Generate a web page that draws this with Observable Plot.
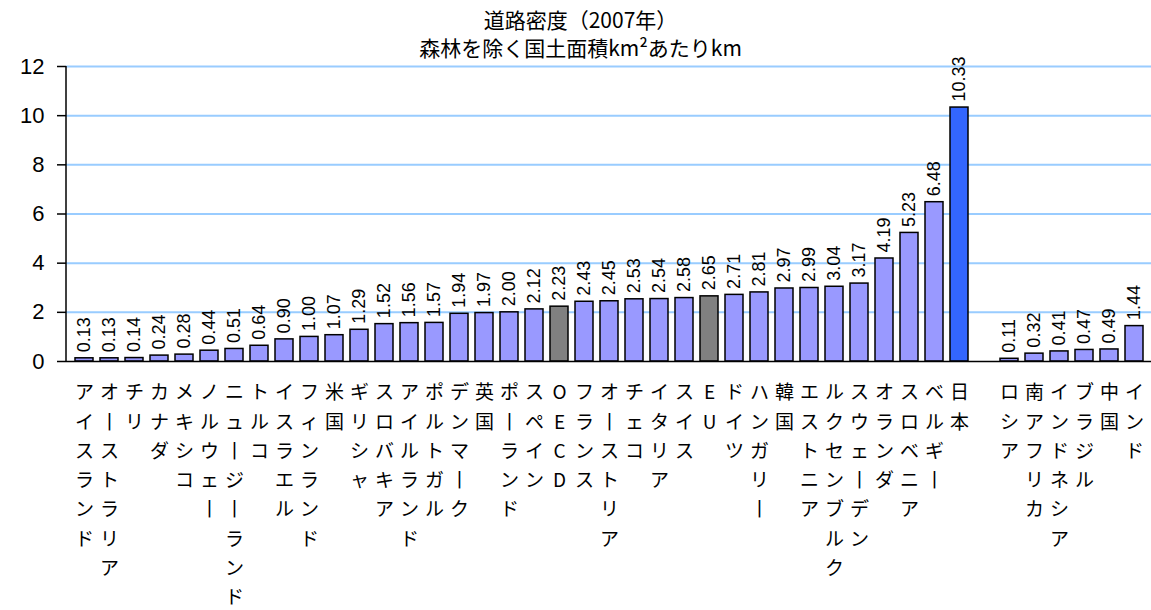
<!DOCTYPE html>
<html>
<head>
<meta charset="utf-8">
<script src="https://cdn.jsdelivr.net/npm/d3@7"></script>
<script src="https://cdn.jsdelivr.net/npm/@observablehq/plot@0.6"></script>
<style>
  html, body { margin: 0; padding: 0; background: #fff; overflow: hidden; }
  #title { height: 60px; box-sizing: border-box; padding-top: 5px; padding-left: 10px;
    text-align: center; font-family: "Noto Sans CJK JP", sans-serif; font-size: 21px;
    line-height: 28px; color: #000; }
  #chart svg { display: block; overflow: visible !important; background: transparent !important; }
</style>
</head>
<body>
<div id="title"><div>道路密度（2007年）</div><div>森林を除く国土面積km²あたりkm</div></div>
<div id="chart"></div>
<script>
const countries = ["アイスランド","オーストラリア","チリ","カナダ","メキシコ","ノルウェー","ニュージーランド","トルコ","イスラエル","フィンランド","米国","ギリシャ","スロバキア","アイルランド","ポルトガル","デンマーク","英国","ポーランド","スペイン","OECD","フランス","オーストリア","チェコ","イタリア","スイス","EU","ドイツ","ハンガリー","韓国","エストニア","ルクセンブルク","スウェーデン","オランダ","スロベニア","ベルギー","日本"];
const values = [0.13,0.13,0.14,0.24,0.28,0.44,0.51,0.64,0.90,1.00,1.07,1.29,1.52,1.56,1.57,1.94,1.97,2.00,2.12,2.23,2.43,2.45,2.53,2.54,2.58,2.65,2.71,2.81,2.97,2.99,3.04,3.17,4.19,5.23,6.48,10.33];
const emerging = ["ロシア","南アフリカ","インドネシア","ブラジル","中国","インド"];
const emergingValues = [0.11,0.32,0.41,0.47,0.49,1.44];
const yTicks = [0,2,4,6,8,10,12];

const gap = " ";
const domain = [...countries, gap, ...emerging];
const data = countries.map((name, i) => ({name, value: values[i]}))
  .concat(emerging.map((name, i) => ({name, value: emergingValues[i]})));
const fillOf = d => d.name === "日本" ? "#3366ff" : (d.name === "OECD" || d.name === "EU") ? "#808080" : "#9999ff";
// stack the characters one per line, as in the original (long vowel mark drawn in its vertical form)
const stacked = name => [...name].map(c => c === "ー" ? "丨" : c).join("\n");

const chart = Plot.plot({
  width: 1151,
  height: 550,
  marginLeft: 66,
  marginRight: 0,
  marginTop: 6,
  marginBottom: 249,
  style: {overflow: "visible", background: "transparent"},
  x: {type: "band", domain, range: [63.8, 1153.5], paddingInner: 0.3, paddingOuter: 0.15, axis: null},
  y: {domain: [0, 12], axis: null},
  marks: [
    Plot.gridY(yTicks.filter(v => v > 0), {stroke: "#99ccff", strokeOpacity: 1, strokeWidth: 2}),
    Plot.barY(data, {x: "name", y: "value", fill: fillOf, stroke: "black", strokeWidth: 1.5}),
    Plot.ruleY([0], {stroke: "black", strokeWidth: 1.5}),
    (index, scales, values, dims) => {
      const line = document.createElementNS("http://www.w3.org/2000/svg", "line");
      line.setAttribute("x1", dims.marginLeft); line.setAttribute("x2", dims.marginLeft);
      line.setAttribute("y1", dims.marginTop); line.setAttribute("y2", dims.height - dims.marginBottom);
      line.setAttribute("stroke", "black"); line.setAttribute("stroke-width", 1.5);
      return line;
    },
    Plot.axisY({ticks: yTicks, tickSize: 9, tickPadding: 13, fontSize: 22, label: null,
      fontFamily: "Liberation Sans, Arial, sans-serif", tickFormat: d => String(d), stroke: "black", strokeWidth: 1.5, ariaLabel: "yticks"}),
    Plot.text(data, {x: "name", y: "value", text: d => d.value.toFixed(2), rotate: -90,
      textAnchor: "start", dy: -6, fontSize: 18, fontFamily: "Liberation Sans, Arial, sans-serif", fill: "black", ariaLabel: "values"}),
    Plot.text(domain.filter(d => d !== gap), {x: d => d, y: () => 0, text: stacked, dy: 17,
      lineAnchor: "top", lineHeight: 1.54,
      fontSize: 19, fontFamily: "Noto Sans CJK JP, sans-serif", fill: "black", ariaLabel: "catlab"})
  ]
});

chart.querySelectorAll('g[aria-label="values"] text').forEach(t => {
  t.style.letterSpacing = "1.6px";
});
chart.querySelectorAll('g[aria-label="yticks"] text').forEach(t => {
  t.style.letterSpacing = "1.5px";
});
document.getElementById("chart").appendChild(chart);
</script>
</body>
</html>
